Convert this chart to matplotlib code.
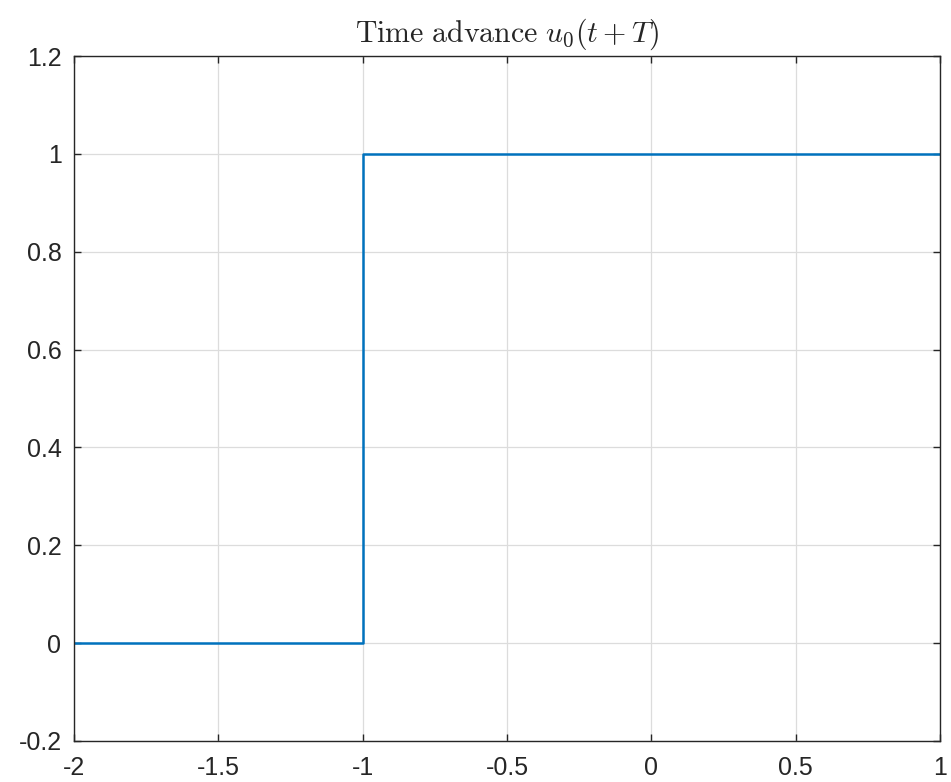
import numpy as np
import matplotlib
matplotlib.use('Agg')
from matplotlib import pyplot as plt

# step signal u0(t+T), T = 1
t = [-2, -1, -1, 1]
u = [0, 0, 1, 1]
xticks = [-2, -1.5, -1, -0.5, 0, 0.5, 1]
yticks = [-0.2, 0, 0.2, 0.4, 0.6, 0.8, 1, 1.2]

plt.rcParams['font.family'] = ['Liberation Sans', 'DejaVu Sans']
plt.rcParams['mathtext.fontset'] = 'cm'
plt.rcParams['axes.unicode_minus'] = False

fig = plt.figure(figsize=(9.51, 7.82), dpi=100)
ax = fig.add_axes([74/951, 1 - 741/782, (940 - 74)/951, (741 - 56)/782])

ax.plot(t, u, color='#0072BD', lw=1.8)
ax.set_xlim(-2, 1)
ax.set_ylim(-0.2, 1.2)
ax.set_xticks(xticks)
ax.set_yticks(yticks)
ax.set_xticklabels(['-2', '-1.5', '-1', '-0.5', '0', '0.5', '1'])
ax.set_yticklabels(['-0.2', '0', '0.2', '0.4', '0.6', '0.8', '1', '1.2'])

ax.grid(True, color='#dcdcdc', lw=0.9)
ax.set_axisbelow(True)
for s in ax.spines.values():
    s.set_color('#262626')
    s.set_linewidth(1.0)
ax.tick_params(direction='in', top=True, right=True, length=5, width=1.0,
               color='#262626', labelcolor='#262626', labelsize=18)
ax.tick_params(axis='x', pad=10.5)
ax.tick_params(axis='y', pad=9)

ax.set_title(r'$\mathrm{Time\ advance}\ u_0(t+T)$', fontsize=21.5, color='#262626', pad=10)

fig.savefig('out.png', dpi=100)
